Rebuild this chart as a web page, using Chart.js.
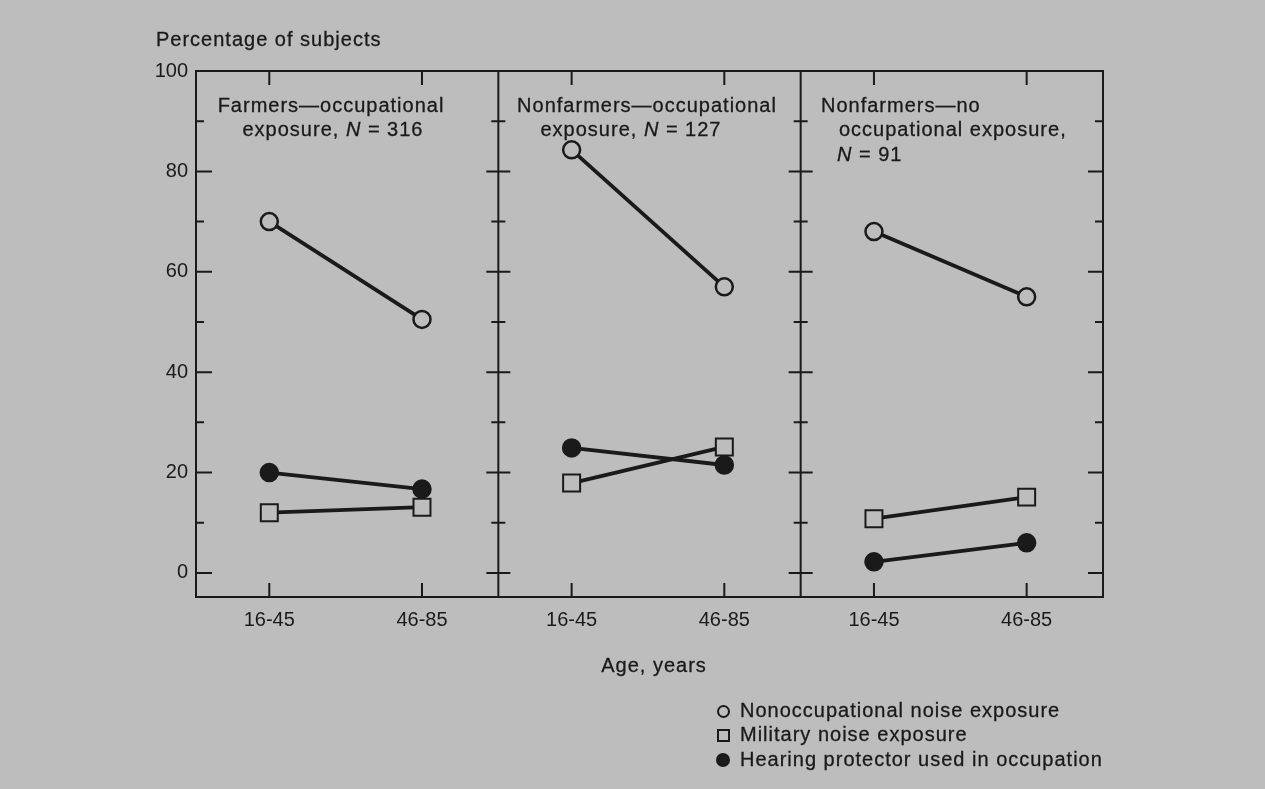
<!DOCTYPE html>
<html>
<head>
<meta charset="utf-8">
<script src="https://cdn.jsdelivr.net/npm/chart.js@4/dist/chart.umd.min.js"></script>
<style>
  html, body { margin: 0; padding: 0; background: #bdbdbd; }
  #wrap { position: relative; width: 1265px; height: 789px; overflow: hidden; }
  #chart { position: absolute; left: 0; top: 0; }
  .t { position: absolute; font: 20px "Liberation Sans", Arial, sans-serif; letter-spacing: 1px;
       color: #1a1a1a; line-height: 20px; white-space: nowrap; -webkit-text-stroke: 0.3px #1a1a1a; }
  .c { text-align: center; }
  .mk { position: absolute; box-sizing: border-box; }
</style>
</head>
<body>
<div id="wrap">
  <canvas id="chart" width="1265" height="789"></canvas>

  <div class="t" style="left:156px; top:29px;">Percentage of subjects</div>

  <div class="t c" style="left:181px; width:300px; top:95px;">Farmers—occupational</div>
  <div class="t c" style="left:183px; width:300px; top:119px;">exposure, <i>N</i> = 316</div>

  <div class="t c" style="left:497px; width:300px; top:95px;">Nonfarmers—occupational</div>
  <div class="t c" style="left:481px; width:300px; top:119px;">exposure, <i>N</i> = 127</div>

  <div class="t" style="left:821px; top:95px;">Nonfarmers—no</div>
  <div class="t" style="left:839px; top:119px;">occupational exposure,</div>
  <div class="t" style="left:837px; top:144px;"><i>N</i> = 91</div>

  <div class="t c" style="left:504px; width:300px; top:655px;">Age, years</div>

  <div class="mk" style="left:717px; top:705px; width:13px; height:13px; border:2px solid #1a1a1a; border-radius:50%;"></div>
  <div class="t" style="left:740px; top:700px;">Nonoccupational noise exposure</div>
  <div class="mk" style="left:717px; top:729px; width:13px; height:13px; border:2px solid #1a1a1a;"></div>
  <div class="t" style="left:740px; top:724px;">Military noise exposure</div>
  <div class="mk" style="left:716px; top:753px; width:14px; height:14px; background:#1a1a1a; border-radius:50%;"></div>
  <div class="t" style="left:740px; top:749px;">Hearing protector used in occupation</div>
</div>

<script>
// age groups on the x axis of each panel
const ageGroups = ['16-45', '46-85']

// one entry per panel: [16-45, 46-85], percentage of subjects
const nonoccupational = [[70, 50.5], [84.3, 57], [68, 55]]
const military = [[12, 13.1], [17.9, 25.1], [10.8, 15.1]]
const protector = [[20, 16.7], [24.9, 21.5], [2.2, 6]]

const yTicks = [0, 10, 20, 30, 40, 50, 60, 70, 80, 90, 100]

// layout: each panel takes PANEL_SPAN units on one shared linear x axis
const PANEL_SPAN = 1.98
const X_MIN = -0.48
const X_MAX = X_MIN + 3 * PANEL_SPAN
const BG = '#bdbdbd'
const INK = '#1a1a1a'

function toPoints(series) {
  const pts = []
  series.forEach((pair, p) => {
    pair.forEach((v, c) => pts.push({ x: p * PANEL_SPAN + c, y: v }))
    pts.push({ x: p * PANEL_SPAN + 1.5, y: null }) // break the line between panels
  })
  return pts
}

const xTickValues = []
for (let p = 0; p < 3; p++) ageGroups.forEach((g, c) => xTickValues.push(p * PANEL_SPAN + c))

// frame, panel dividers and the little inward ticks
const framePlugin = {
  id: 'frame',
  beforeDatasetsDraw(chart) {
    const { ctx, chartArea: a, scales } = chart
    const xs = scales.x, ys = scales.y
    const dividers = [1, 2].map(p => xs.getPixelForValue(X_MIN + p * PANEL_SPAN))
    ctx.save()
    ctx.strokeStyle = INK
    ctx.lineWidth = 2
    ctx.strokeRect(a.left, a.top, a.right - a.left, a.bottom - a.top)
    ctx.beginPath()
    dividers.forEach(d => { ctx.moveTo(d, a.top); ctx.lineTo(d, a.bottom) })
    yTicks.forEach(v => {
      const y = ys.getPixelForValue(v)
      const major = v % 20 === 0
      ctx.moveTo(a.left, y); ctx.lineTo(a.left + (major ? 16 : 8), y)
      ctx.moveTo(a.right, y); ctx.lineTo(a.right - (major ? 15 : 8), y)
      dividers.forEach(d => {
        const h = major ? 12 : 7
        ctx.moveTo(d - h, y); ctx.lineTo(d + h, y)
      })
    })
    xTickValues.forEach(v => {
      const x = xs.getPixelForValue(v)
      ctx.moveTo(x, a.bottom); ctx.lineTo(x, a.bottom - 14)
      ctx.moveTo(x, a.top); ctx.lineTo(x, a.top + 14)
    })
    ctx.stroke()
    ctx.restore()
  }
}

function seriesDataset(label, series, style) {
  return Object.assign({
    label,
    data: toPoints(series),
    borderColor: INK,
    borderWidth: 3.8,
    spanGaps: false,
    pointBorderColor: INK,
    pointBorderWidth: 2.5,
    pointHoverRadius: 0
  }, style)
}

new Chart(document.getElementById('chart'), {
  type: 'line',
  data: {
    datasets: [
      seriesDataset('Hearing protector used in occupation', protector, {
        pointStyle: 'circle', pointRadius: 8.5, pointBackgroundColor: INK
      }),
      seriesDataset('Military noise exposure', military, {
        pointStyle: 'rect', pointRadius: 12, pointBorderWidth: 2, pointBackgroundColor: BG
      }),
      seriesDataset('Nonoccupational noise exposure', nonoccupational, {
        pointStyle: 'circle', pointRadius: 8.5, pointBackgroundColor: BG
      })
    ]
  },
  options: {
    responsive: false,
    animation: false,
    events: [],
    layout: { padding: { left: 0, right: 162, top: 71, bottom: 0 } },
    plugins: { legend: { display: false }, tooltip: { enabled: false } },
    scales: {
      x: {
        type: 'linear',
        min: X_MIN,
        max: X_MAX,
        grid: { display: false, drawTicks: false },
        border: { display: false },
        afterBuildTicks: s => { s.ticks = xTickValues.map(v => ({ value: v })) },
        afterFit: s => { s.height = 192 },
        ticks: {
          color: INK,
          font: { family: '"Liberation Sans", Arial', size: 20 },
          padding: 11,
          maxRotation: 0,
          autoSkip: false,
          callback: (v, i) => ageGroups[i % 2]
        }
      },
      y: {
        min: -4.8,
        max: 100,
        grid: { display: false, drawTicks: false },
        border: { display: false },
        afterBuildTicks: s => { s.ticks = yTicks.map(v => ({ value: v })) },
        afterFit: s => { s.width = 196 },
        ticks: {
          color: INK,
          font: { family: '"Liberation Sans", Arial', size: 20 },
          padding: 8,
          callback: v => (v % 20 === 0 ? v : '')
        }
      }
    }
  },
  plugins: [framePlugin]
})
</script>
</body>
</html>
